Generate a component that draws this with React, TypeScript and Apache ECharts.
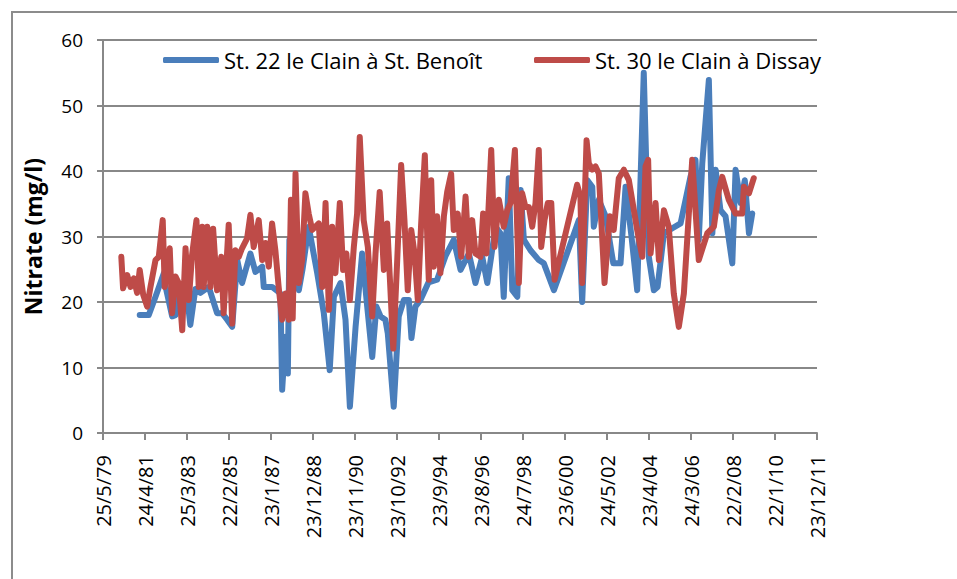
import React, { useEffect, useRef } from "react";
import * as echarts from "echarts";

// Tick labels of the date axis (one every 700 days from 25/5/79)
const tickLabels = [
  "25/5/79", "24/4/81", "25/3/83", "22/2/85", "23/1/87", "23/12/88",
  "23/11/90", "23/10/92", "23/9/94", "23/8/96", "24/7/98", "23/6/00",
  "24/5/02", "23/4/04", "24/3/06", "22/2/08", "22/1/10", "23/12/11",
];

const seriesNames = ["St. 22 le Clain à St. Benoît", "St. 30 le Clain à Dissay"];

// Sampling dates as decimal years
const benoitYears = [
  1981.07, 1981.48, 1981.79, 1982.17, 1982.24, 1982.55, 1982.70, 1982.93, 1983.16, 1983.38,
  1983.61, 1983.84, 1984.22, 1984.60, 1984.83, 1985.06, 1985.29, 1985.52, 1985.74, 1986.12,
  1986.35, 1986.66, 1986.73, 1987.11, 1987.49, 1987.57, 1987.72, 1987.83, 1987.90, 1988.03,
  1988.33, 1988.50, 1988.78, 1989.17, 1989.47, 1989.74, 1989.93, 1990.23, 1990.46, 1990.66,
  1990.92, 1991.22, 1991.45, 1991.68, 1991.87, 1992.06, 1992.28, 1992.39, 1992.66, 1992.89,
  1993.12, 1993.35, 1993.47, 1993.65, 1993.88, 1994.25, 1994.64, 1995.02, 1995.40, 1995.71,
  1996.09, 1996.39, 1996.70, 1996.93, 1997.31, 1997.53, 1997.68, 1997.91, 1998.07, 1998.30,
  1998.45, 1998.60, 1998.90, 1999.28, 1999.51, 1999.97, 2001.11, 2001.26, 2001.49, 2001.72,
  2001.79, 2002.02, 2002.33, 2002.68, 2003.01, 2003.24, 2003.51, 2003.77, 2004.07, 2004.30,
  2004.53, 2004.70, 2004.99, 2005.75, 2006.20, 2006.43, 2006.58, 2006.74, 2007.04, 2007.20,
  2007.35, 2007.57, 2007.80, 2008.11, 2008.26, 2008.49, 2008.68, 2008.87, 2009.02,
];
const benoitValues = [
  18.0, 18.0, 20.8, 24.4, 22.5, 17.8, 18.0, 22.0, 23.0, 16.5,
  22.0, 21.4, 22.3, 18.3, 18.3, 17.3, 16.2, 26.4, 22.9, 27.4,
  24.6, 25.4, 22.3, 22.3, 21.3, 6.6, 14.7, 9.1, 29.5, 30.0,
  21.8, 25.0, 31.5, 24.4, 18.3, 9.6, 20.8, 22.9, 17.3, 4.0,
  16.2, 27.4, 19.3, 11.6, 19.3, 17.8, 17.3, 15.2, 4.0, 17.8,
  20.3, 20.3, 14.5, 19.3, 20.3, 23.0, 23.4, 27.0, 29.5, 24.9,
  27.4, 22.9, 26.9, 22.9, 31.5, 30.5, 20.8, 38.9, 21.8, 20.8,
  37.1, 29.5, 27.9, 26.4, 25.9, 21.8, 32.5, 20.0, 38.6, 37.6,
  31.5, 35.6, 33.1, 25.9, 25.9, 37.6, 30.0, 21.8, 55.0, 26.9,
  21.8, 22.3, 30.5, 32.0, 39.1, 41.7, 29.5, 41.2, 53.9, 30.5,
  40.2, 34.0, 33.1, 25.9, 40.2, 35.1, 38.6, 30.5, 33.5,
];

const dissayYears = [
  1980.23, 1980.31, 1980.50, 1980.65, 1980.80, 1980.95, 1981.07, 1981.23, 1981.41, 1981.56,
  1981.79, 1981.94, 1982.12, 1982.21, 1982.44, 1982.55, 1982.70, 1982.85, 1983.01, 1983.16,
  1983.31, 1983.46, 1983.66, 1983.76, 1983.92, 1983.99, 1984.15, 1984.30, 1984.42, 1984.60,
  1984.79, 1984.90, 1985.13, 1985.29, 1985.44, 1985.59, 1985.74, 1985.97, 1986.12, 1986.27,
  1986.50, 1986.66, 1986.81, 1986.96, 1987.11, 1987.26, 1987.41, 1987.57, 1987.72, 1987.87,
  1987.97, 1988.05, 1988.18, 1988.33, 1988.48, 1988.63, 1988.78, 1988.94, 1989.09, 1989.24,
  1989.40, 1989.55, 1989.70, 1989.85, 1990.00, 1990.20, 1990.35, 1990.50, 1990.66, 1990.84,
  1990.99, 1991.11, 1991.29, 1991.48, 1991.68, 1991.83, 1992.02, 1992.21, 1992.36, 1992.48,
  1992.64, 1992.82, 1993.00, 1993.15, 1993.30, 1993.46, 1993.61, 1993.76, 1993.91, 1994.08,
  1994.19, 1994.26, 1994.37, 1994.49, 1994.64, 1994.79, 1994.95, 1995.10, 1995.28, 1995.40,
  1995.58, 1995.74, 1995.94, 1996.09, 1996.24, 1996.39, 1996.62, 1996.74, 1996.89, 1997.11,
  1997.26, 1997.46, 1997.68, 1997.84, 1997.99, 1998.19, 1998.37, 1998.52, 1998.67, 1998.83,
  1998.98, 1999.13, 1999.28, 1999.39, 1999.54, 1999.69, 1999.85, 2000.00, 2001.03, 2001.18,
  2001.26, 2001.46, 2001.56, 2001.72, 2001.87, 2002.02, 2002.28, 2002.52, 2002.70, 2002.93,
  2003.16, 2003.39, 2003.54, 2003.77, 2004.00, 2004.15, 2004.27, 2004.38, 2004.61, 2004.76,
  2004.99, 2005.21, 2005.44, 2005.67, 2005.90, 2006.28, 2006.58, 2006.97, 2007.27, 2007.50,
  2007.65, 2007.95, 2008.26, 2008.56, 2008.64, 2008.87, 2009.09,
];
const dissayValues = [
  26.9, 22.1, 24.1, 22.3, 23.6, 21.4, 24.9, 21.1, 19.3, 22.3,
  26.4, 26.9, 32.5, 22.3, 28.2, 18.3, 23.9, 22.9, 15.7, 28.2,
  20.3, 27.2, 32.5, 22.3, 31.5, 22.3, 31.5, 22.3, 31.2, 21.8,
  26.9, 18.3, 31.8, 16.7, 27.9, 26.9, 28.2, 29.7, 33.3, 28.4,
  32.5, 26.4, 29.0, 25.4, 32.0, 27.9, 22.3, 17.3, 21.3, 17.3,
  35.6, 17.5, 39.6, 22.9, 26.4, 36.6, 33.5, 31.0, 31.5, 32.0,
  22.3, 35.1, 18.8, 31.5, 24.4, 35.1, 24.9, 27.4, 20.3, 28.4,
  33.5, 45.2, 32.5, 28.4, 17.8, 27.4, 36.8, 24.9, 32.0, 23.9,
  12.9, 26.4, 40.9, 32.5, 21.8, 31.0, 27.4, 20.3, 31.8, 42.4,
  30.0, 23.4, 38.6, 25.4, 33.1, 24.4, 33.1, 36.8, 39.6, 31.0,
  33.5, 26.9, 36.1, 26.9, 32.5, 27.4, 26.9, 33.5, 27.4, 43.2,
  28.4, 35.6, 31.5, 34.0, 35.1, 43.2, 22.9, 36.6, 34.5, 34.5,
  31.5, 35.1, 43.2, 28.4, 32.5, 35.1, 35.1, 23.4, 37.9, 36.1,
  22.9, 44.7, 41.2, 40.2, 40.7, 39.6, 22.9, 33.1, 31.0, 38.9,
  40.2, 38.6, 35.6, 31.0, 26.9, 40.7, 41.7, 27.4, 35.1, 26.4,
  34.0, 31.5, 21.3, 16.2, 21.3, 41.7, 26.4, 30.5, 31.5, 37.1,
  39.1, 35.6, 33.5, 33.5, 37.6, 36.6, 38.9,
];

const AXIS_START_YEAR = 1979 + 144 / 365; // 25/5/1979
const DAYS_PER_YEAR = 365.25;
const TICK_DAYS = 700;

const toPairs = (years: number[], values: number[]) =>
  years.map((y, i) => [(y - AXIS_START_YEAR) * DAYS_PER_YEAR, values[i]]);

const FONT = "'Open Sans', Lato, sans-serif";
const GRAY = "#888888";

export default function App() {
  const ref = useRef<HTMLDivElement>(null);

  useEffect(() => {
    if (!ref.current) return;
    const chart = echarts.init(ref.current, undefined, { renderer: "svg" });
    const legendText = { fontSize: 22, color: "#000", fontFamily: FONT };
    chart.setOption({
      animation: false,
      backgroundColor: "#ffffff",
      textStyle: { fontFamily: FONT },
      grid: { left: 103, right: 140, top: 40, bottom: 146, containLabel: false },
      graphic: [
        {
          type: "rect",
          shape: { x: 12, y: 12, width: 1200, height: 1200 },
          style: { fill: "none", stroke: "#8c8c8c", lineWidth: 2 },
          silent: true,
        },
      ],
      legend: [
        {
          data: [seriesNames[0]],
          left: 158,
          top: 44,
          icon: "roundRect",
          itemWidth: 56,
          itemHeight: 6,
          textStyle: legendText,
        },
        {
          data: [seriesNames[1]],
          left: 529,
          top: 44,
          icon: "roundRect",
          itemWidth: 56,
          itemHeight: 6,
          textStyle: legendText,
        },
      ],
      xAxis: {
        type: "value",
        min: 0,
        max: TICK_DAYS * (tickLabels.length - 1),
        interval: TICK_DAYS,
        axisLine: { show: true, lineStyle: { color: GRAY, width: 2 } },
        axisTick: { show: true, length: 7, lineStyle: { color: GRAY, width: 2 } },
        splitLine: { show: false },
        axisLabel: {
          rotate: 90,
          margin: 22,
          fontSize: 20,
          color: "#000",
          fontFamily: FONT,
          formatter: (v: number) => tickLabels[Math.round(v / TICK_DAYS)] ?? "",
        },
      },
      yAxis: {
        type: "value",
        min: 0,
        max: 60,
        interval: 10,
        name: "Nitrate (mg/l)",
        nameLocation: "middle",
        nameGap: 59,
        nameTextStyle: { fontSize: 23, fontWeight: "bold", color: "#000", fontFamily: FONT },
        axisLine: { show: true, lineStyle: { color: GRAY, width: 2 } },
        axisTick: { show: true, length: 6, lineStyle: { color: GRAY, width: 2 } },
        splitLine: { show: true, lineStyle: { color: GRAY, width: 2 } },
        axisLabel: { margin: 20, fontSize: 19, color: "#000", fontFamily: FONT },
      },
      series: [
        {
          name: seriesNames[0],
          type: "line",
          data: toPairs(benoitYears, benoitValues),
          showSymbol: false,
          symbol: "none",
          color: "#4a7ebb",
          lineStyle: { width: 6, color: "#4a7ebb", cap: "round", join: "round" },
          z: 2,
        },
        {
          name: seriesNames[1],
          type: "line",
          data: toPairs(dissayYears, dissayValues),
          showSymbol: false,
          symbol: "none",
          color: "#be4b48",
          lineStyle: { width: 6, color: "#be4b48", cap: "round", join: "round" },
          z: 3,
        },
      ],
    });
    return () => chart.dispose();
  }, []);

  return (
    <div
      ref={ref}
      style={{ position: "fixed", left: 0, top: 0, width: 957, height: 579 }}
    />
  );
}
